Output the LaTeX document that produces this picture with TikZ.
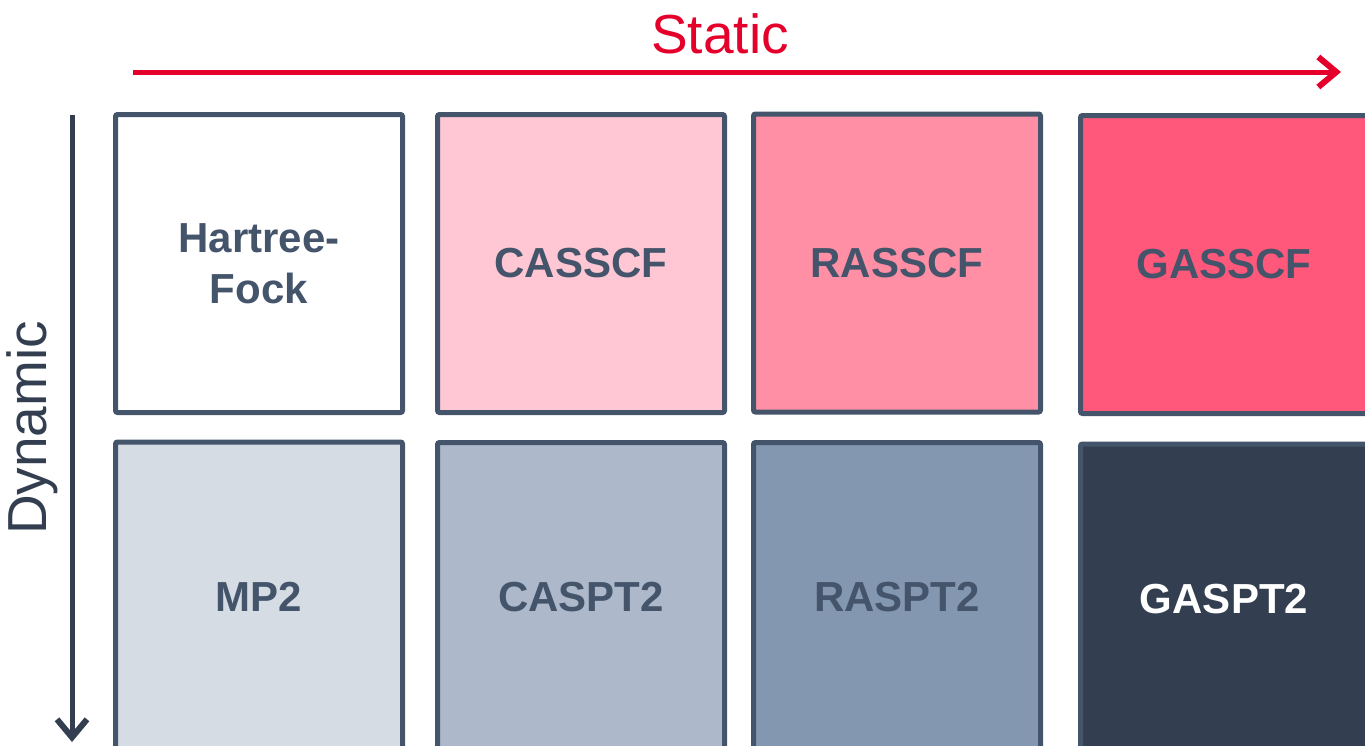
\documentclass[tikz,border=0pt]{standalone}
\usepackage{fontspec}
\setmainfont{Liberation Sans}
\usetikzlibrary{arrows.meta}
\definecolor{frame}{HTML}{44546A}
\definecolor{darkslate}{HTML}{333F50}
\definecolor{axisred}{HTML}{E4002B}
\definecolor{pinkA}{HTML}{FFC7D4}
\definecolor{pinkB}{HTML}{FF8FA5}
\definecolor{pinkC}{HTML}{FF587B}
\definecolor{greyA}{HTML}{D6DCE4}
\definecolor{greyB}{HTML}{ADB9CA}
\definecolor{greyC}{HTML}{8497B0}
\tikzset{
  method/.style={draw=frame, line width=5pt, rounded corners=2pt,
    minimum width=287pt, minimum height=298pt, inner sep=0pt,
    font=\fontsize{42}{51}\selectfont\bfseries, text=frame, align=center},
  lower/.style={minimum height=310pt},
  axislabel/.style={font=\fontsize{55}{60}\selectfont},
  axisarrow/.style={line width=5pt, -{Straight Barb[length=18pt, width=30pt, line width=6pt]}}
}
\begin{document}
\begin{tikzpicture}[x=1pt, y=-1pt]
\useasboundingbox (0,0) rectangle (1365,745);
\clip (0,0) rectangle (1365,745);
% static (horizontal) axis
\coordinate (sx0) at (133,72);
\coordinate (sx1) at (1341,72);
\draw[axisarrow, axisred] (sx0) -- (sx1);
\node[axislabel, text=axisred] (static) at (720,34) {Static};
% dynamic (vertical) axis
\coordinate (dy0) at (72,115);
\coordinate (dy1) at (72,742);
\draw[axisarrow, darkslate] (dy0) -- (dy1);
\node[axislabel, text=darkslate, rotate=90] (dynamic) at (32,428) {Dynamic};
% reference wave functions
\node[method, fill=white] (hf) at (259,263.5) {Hartree-\\Fock};
\node[method, fill=pinkA] (cas) at (581,263.5) {CASSCF};
\node[method, fill=pinkB] (ras) at (897,263) {RASSCF};
\node[method, fill=pinkC] (gas) at (1224,264.5) {GASSCF};
% perturbative corrections
\node[method, lower, fill=greyA] (mp2) at (259,597) {MP2};
\node[method, lower, fill=greyB] (caspt) at (581,597.5) {CASPT2};
\node[method, lower, fill=greyC] (raspt) at (897,597.5) {RASPT2};
\node[method, lower, fill=darkslate, text=white] (gaspt) at (1224,599) {GASPT2};
\end{tikzpicture}
\end{document}
